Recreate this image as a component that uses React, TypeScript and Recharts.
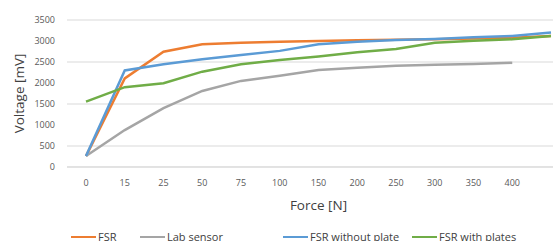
import React from "react";
import { LineChart, Line, XAxis, YAxis, CartesianGrid } from "recharts";

const forces: string[] = ["0", "15", "25", "50", "75", "100", "150", "200", "250", "300", "350", "400", "450"];
// the last category sits on the cropped right edge, its label is not visible
const visibleForces: string[] = forces.slice(0, 12);

const fsr: number[] = [260, 2110, 2745, 2925, 2960, 2985, 3000, 3020, 3030, 3040, 3060, 3080, 3120];
const labSensor: (number | null)[] = [260, 880, 1400, 1810, 2050, 2170, 2310, 2365, 2410, 2435, 2450, 2480, null];
const fsrWithoutPlate: number[] = [260, 2300, 2445, 2565, 2665, 2765, 2920, 2985, 3025, 3050, 3090, 3120, 3200];
const fsrWithPlates: number[] = [1555, 1900, 1995, 2270, 2445, 2545, 2630, 2730, 2810, 2960, 3005, 3040, 3120];

const yTicks: number[] = [0, 500, 1000, 1500, 2000, 2500, 3000, 3500];

const seriesNames = ["FSR", "Lab sensor", "FSR without plate", "FSR with plates"];
const seriesColors = ["#ED7D31", "#A5A5A5", "#5B9BD5", "#70AD47"];

const data = forces.map((f, i) => ({
    force: f,
    fsr: fsr[i],
    lab: labSensor[i],
    noPlate: fsrWithoutPlate[i],
    plates: fsrWithPlates[i],
}));

const FONT = "'Open Sans', sans-serif";

// legend is drawn as plain html under the plot, like the excel one
const legendLeft = [71, 140, 283, 412];

function ChartLegend(): React.ReactElement {
    return (
        <div style={{ position: "absolute", top: 229, left: 0, width: 553, height: 16 }}>
            {seriesNames.map((name, i) => (
                <div
                    key={name}
                    style={{
                        position: "absolute",
                        left: legendLeft[i],
                        top: 0,
                        height: 16,
                        display: "flex",
                        alignItems: "center",
                        whiteSpace: "nowrap",
                    }}
                >
                    <span style={{ display: "inline-block", width: 25, height: 2.5, background: seriesColors[i], marginRight: 2 }} />
                    <span style={{ fontFamily: FONT, fontSize: 11, color: "#404040", lineHeight: "16px" }}>{name}</span>
                </div>
            ))}
        </div>
    );
}

export default function App(): React.ReactElement {
    return (
        <div style={{ position: "fixed", top: 0, left: 0, width: 553, height: 241, overflow: "hidden", background: "#fff" }}>
            <div style={{ position: "absolute", top: 0, left: 0 }}>
                <LineChart width={600} height={241} data={data} margin={{ top: 20, right: 30, left: 0, bottom: 0 }}>
                    <CartesianGrid stroke="#D9D9D9" vertical={false} />
                    <XAxis
                        dataKey="force"
                        height={74}
                        ticks={visibleForces}
                        padding={{ left: 19, right: 19 }}
                        axisLine={{ stroke: "#D9D9D9" }}
                        tickLine={false}
                        tickSize={6}
                        tickMargin={7}
                        tick={{ fill: "#595959", fontSize: 9, fontFamily: FONT }}
                        label={{
                            value: "Force [N]",
                            position: "insideBottom",
                            offset: 31,
                            fill: "#404040",
                            fontSize: 13.5,
                            fontFamily: FONT,
                        }}
                    />
                    <YAxis
                        width={67}
                        domain={[0, 3500]}
                        ticks={yTicks}
                        axisLine={false}
                        tickLine={false}
                        tickSize={6}
                        tickMargin={6}
                        tick={{ fill: "#595959", fontSize: 9, fontFamily: FONT }}
                        label={{
                            value: "Voltage [mV]",
                            angle: -90,
                            position: "insideLeft",
                            offset: 19,
                            fill: "#404040",
                            fontSize: 13.5,
                            fontFamily: FONT,
                            style: { textAnchor: "middle" },
                        }}
                    />
                    <Line type="linear" dataKey="fsr" stroke={seriesColors[0]} strokeWidth={2.5} dot={false} isAnimationActive={false} />
                    <Line type="linear" dataKey="lab" stroke={seriesColors[1]} strokeWidth={2.5} dot={false} isAnimationActive={false} />
                    <Line type="linear" dataKey="noPlate" stroke={seriesColors[2]} strokeWidth={2.5} dot={false} isAnimationActive={false} />
                    <Line type="linear" dataKey="plates" stroke={seriesColors[3]} strokeWidth={2.5} dot={false} isAnimationActive={false} />
                </LineChart>
            </div>
            <ChartLegend />
        </div>
    );
}
